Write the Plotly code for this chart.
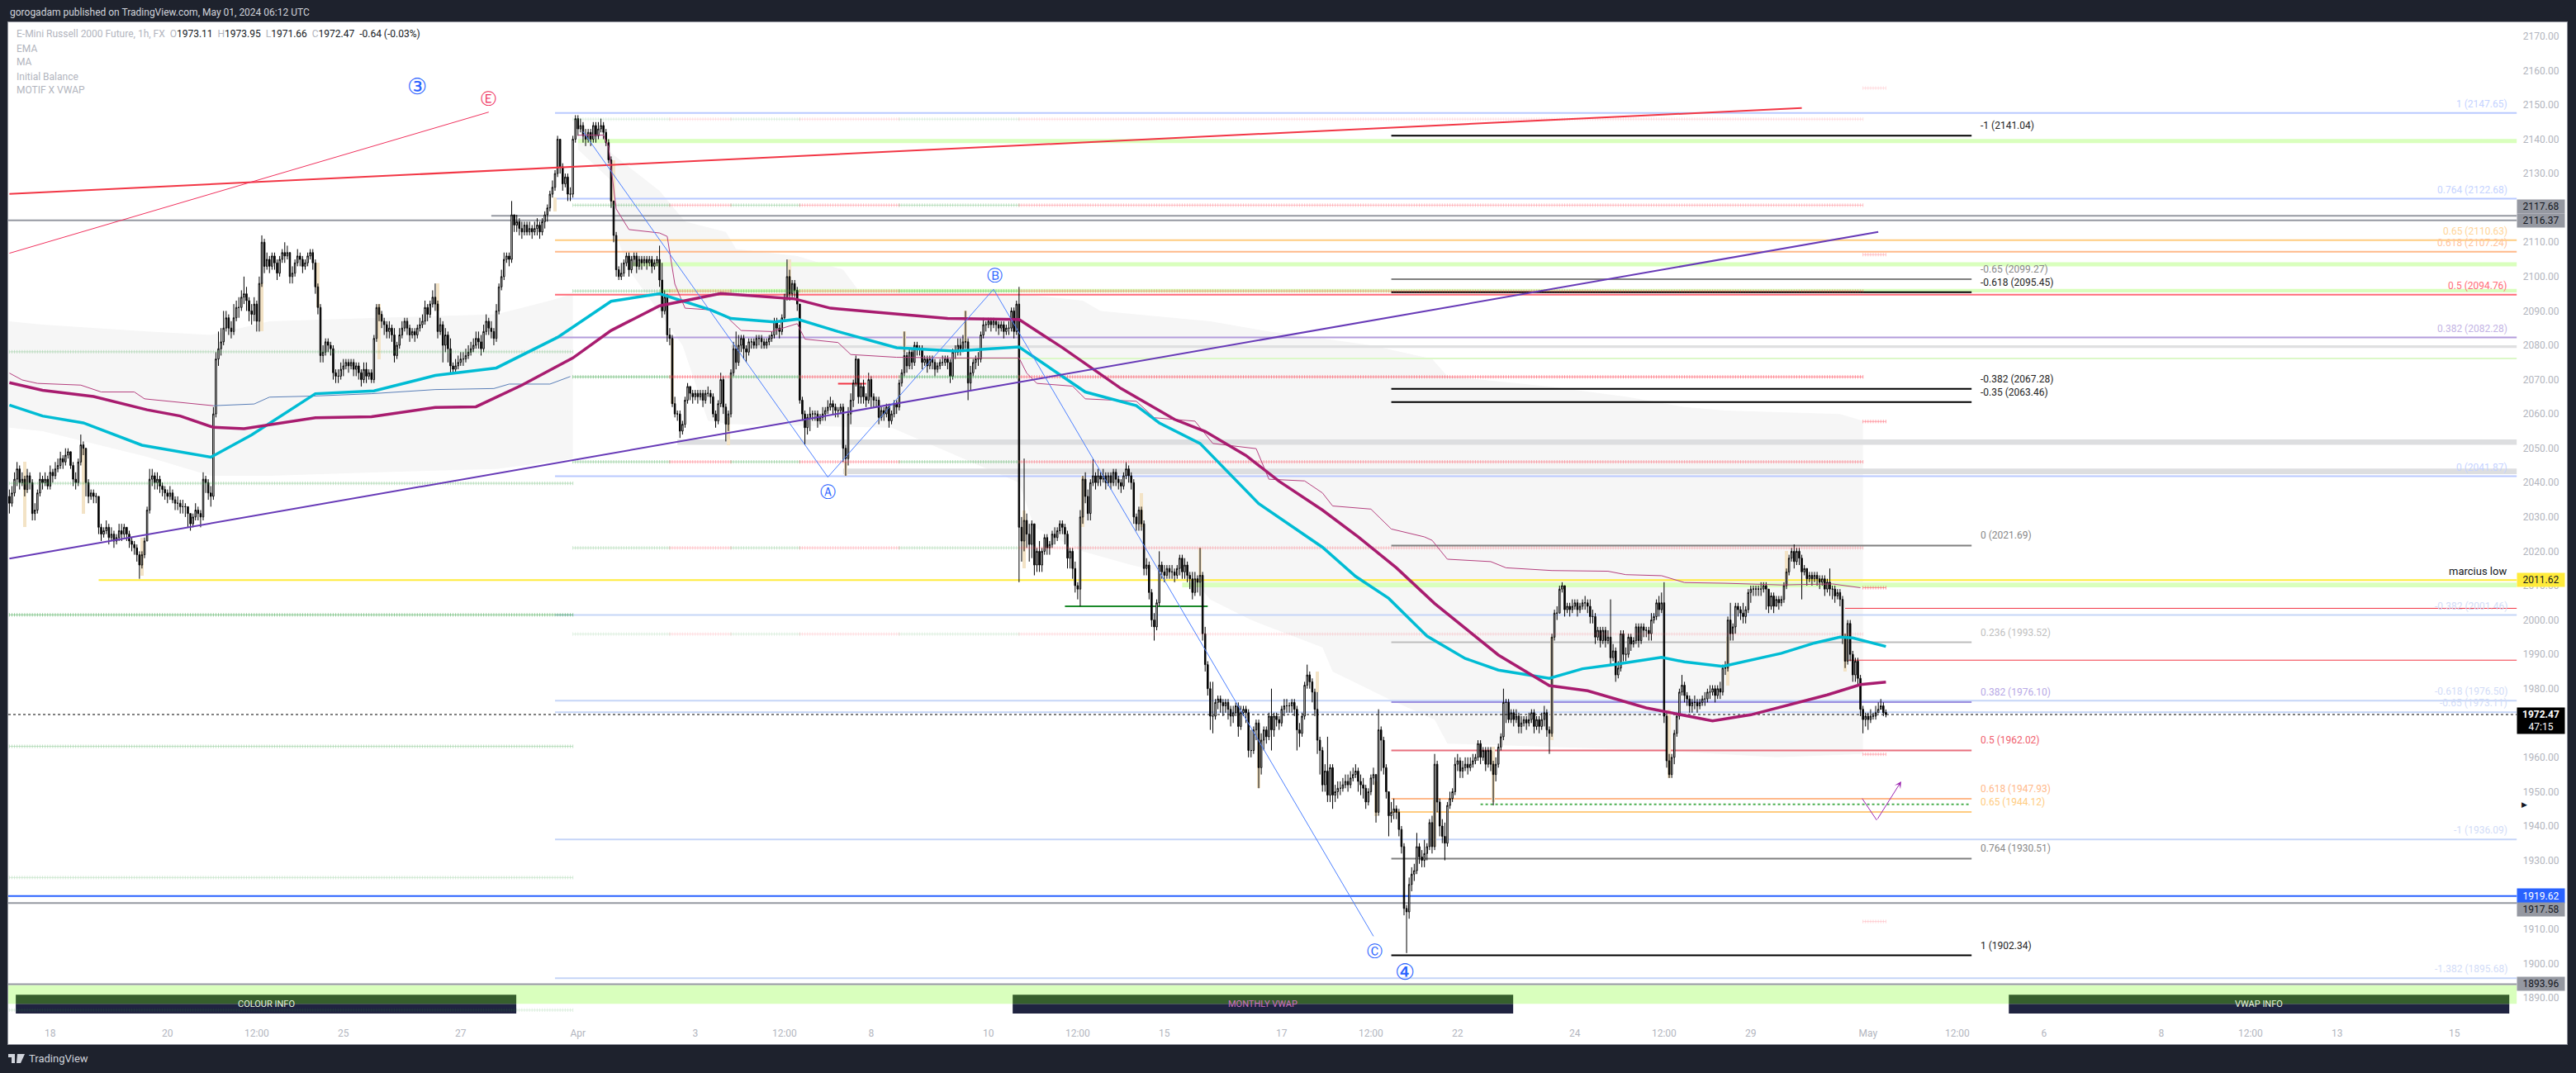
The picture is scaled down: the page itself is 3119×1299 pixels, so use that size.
import plotly.graph_objects as go

FONT = "Roboto"
closes = [
2034,2037,2041,2044,2040,2041,2038,2042,2040,2031,
2032,2037,2041,2040,2041,2039,2043,2042,2044,2045,
2047,2046,2048,2049,2045,2041,2040,2046,2051,2050,
2040,2036,2037,2036,2036,2027,2025,2026,2027,2024,
2025,2023,2024,2026,2025,2027,2025,2023,2022,2021,
2019,2016,2019,2023,2032,2041,2042,2040,2041,2039,
2038,2037,2036,2037,2035,2034,2034,2033,2033,2033,
2031,2028,2030,2032,2031,2030,2041,2040,2037,2036,
2060,2076,2079,2081,2085,2088,2085,2084,2088,2091,
2091,2094,2095,2093,2090,2089,2092,2087,2098,2110,
2103,2105,2103,2106,2104,2101,2105,2107,2106,2107,
2100,2101,2104,2106,2105,2103,2104,2106,2107,2104,
2097,2091,2077,2078,2081,2080,2079,2072,2071,2071,
2073,2074,2075,2074,2075,2073,2074,2072,2070,2073,
2071,2072,2070,2082,2091,2089,2087,2086,2084,2085,
2083,2077,2080,2083,2085,2087,2085,2083,2084,2083,
2085,2086,2087,2091,2089,2092,2094,2092,2084,2086,
2080,2083,2079,2074,2073,2074,2075,2076,2076,2077,
2078,2079,2080,2082,2081,2079,2084,2087,2085,2084,
2082,2090,2097,2100,2105,2106,2105,2118,2115,2116,
2114,2113,2115,2113,2114,2113,2114,2115,2113,2116,
2118,2120,2124,2126,2130,2140,2132,2127,2129,2124,
2124,2140,2146,2143,2144,2141,2140,2142,2140,2144,
2141,2143,2144,2142,2139,2134,2122,2112,2102,2100,
2101,2104,2106,2102,2105,2106,2103,2105,2104,2105,
2104,2105,2103,2104,2105,2099,2090,2094,2083,2082,
2063,2060,2060,2055,2057,2064,2068,2066,2065,2066,
2065,2066,2064,2066,2066,2065,2060,2058,2063,2070,
2062,2057,2060,2072,2079,2075,2080,2082,2079,2078,
2081,2081,2080,2082,2082,2081,2080,2081,2082,2083,
2087,2085,2084,2088,2094,2100,2095,2098,2096,2092,
2064,2060,2056,2059,2060,2060,2060,2058,2059,2060,
2061,2062,2063,2062,2061,2061,2062,2050,2047,2060,
2064,2069,2076,2065,2068,2065,2064,2070,2065,2064,
2064,2059,2061,2060,2062,2058,2060,2063,2062,2069,
2072,2077,2074,2078,2075,2080,2079,2079,2075,2076,
2074,2076,2075,2073,2074,2075,2075,2076,2075,2071,
2078,2078,2080,2079,2081,2081,2069,2072,2075,2076,
2076,2083,2086,2086,2087,2086,2087,2086,2085,2086,
2084,2085,2085,2090,2084,2092,2027,2023,2029,2025,
2022,2028,2016,2020,2016,2020,2024,2021,2022,2025,
2024,2026,2028,2027,2025,2018,2020,2015,2010,2009,
2030,2041,2036,2031,2040,2042,2040,2042,2041,2042,
2040,2042,2040,2043,2041,2040,2039,2042,2044,2042,
2040,2030,2028,2032,2028,2015,2016,2008,2000,1998,
2005,2016,2014,2013,2015,2014,2014,2013,2015,2018,
2014,2016,2013,2012,2008,2012,2011,2013,1996,1987,
1980,1972,1972,1976,1977,1976,1975,1976,1974,1972,
1973,1975,1969,1973,1974,1973,1962,1962,1968,1970,
1957,1965,1968,1966,1972,1968,1972,1971,1970,1974,
1975,1975,1975,1976,1974,1968,1967,1972,1981,1984,
1982,1979,1974,1965,1962,1952,1956,1949,1957,1949,
1950,1951,1951,1952,1953,1952,1954,1955,1956,1953,
1952,1951,1947,1950,1954,1955,1944,1968,1965,1957,
1950,1943,1944,1945,1944,1939,1934,1916,1915,1923,
1926,1927,1934,1931,1930,1932,1934,1941,1934,1958,
1947,1940,1937,1935,1946,1948,1950,1958,1959,1956,
1957,1958,1957,1958,1959,1960,1964,1960,1962,1958,
1962,1958,1955,1958,1963,1966,1976,1976,1971,1973,
1971,1972,1969,1970,1971,1970,1971,1973,1969,1971,
1969,1971,1973,1968,1967,1995,2002,2002,2009,2010,
2003,2004,2003,2004,2005,2003,2004,2005,2005,2004,
2001,2001,1995,1997,1994,1997,1994,1995,1989,1991,
1984,1986,1996,1990,1990,1995,1993,1994,1998,1994,
1998,1997,1997,1996,2000,2001,2005,2003,2005,1972,
1959,1955,1960,1967,1972,1979,1981,1978,1977,1975,
1976,1976,1975,1976,1977,1977,1979,1979,1980,1978,
1980,1979,1986,1986,2000,1996,1998,2004,2003,2002,
2001,2003,2008,2009,2009,2009,2009,2009,2010,2009,
2004,2007,2004,2006,2005,2006,2010,2014,2018,2020,
2017,2020,2018,2014,2015,2012,2013,2012,2013,2012,
2011,2012,2009,2011,2009,2009,2007,2008,2006,1995,
1988,1999,1990,1984,1988,1983,1974,1971,1972,1971,
1972,1972,1973,1974,1975,1973,1972.47]

opens = [
2036,2034,2037,2041,2044,2040,2041,2038,2042,2040,
2031,2032,2037,2041,2040,2041,2039,2043,2042,2044,
2045,2047,2046,2048,2049,2045,2041,2040,2046,2051,
2050,2040,2036,2037,2036,2036,2027,2025,2026,2027,
2024,2025,2023,2024,2026,2025,2027,2025,2023,2022,
2021,2019,2016,2019,2023,2032,2041,2042,2040,2041,
2039,2038,2037,2036,2037,2035,2034,2034,2033,2033,
2033,2031,2028,2030,2032,2031,2030,2041,2040,2037,
2036,2060,2076,2079,2081,2085,2088,2085,2084,2088,
2091,2091,2094,2095,2093,2090,2089,2092,2087,2098,
2110,2103,2105,2103,2106,2104,2101,2105,2107,2106,
2107,2100,2101,2104,2106,2105,2103,2104,2106,2107,
2104,2097,2091,2077,2078,2081,2080,2079,2072,2071,
2071,2073,2074,2075,2074,2075,2073,2074,2072,2070,
2073,2071,2072,2070,2082,2091,2089,2087,2086,2084,
2085,2083,2077,2080,2083,2085,2087,2085,2083,2084,
2083,2085,2086,2087,2091,2089,2092,2094,2092,2084,
2086,2080,2083,2079,2074,2073,2074,2075,2076,2076,
2077,2078,2079,2080,2082,2081,2079,2084,2087,2085,
2084,2082,2090,2097,2100,2105,2106,2105,2118,2115,
2116,2114,2113,2115,2113,2114,2113,2114,2115,2113,
2116,2118,2120,2124,2126,2130,2140,2132,2127,2129,
2124,2124,2140,2146,2143,2144,2141,2140,2142,2140,
2144,2141,2143,2144,2142,2139,2134,2122,2112,2102,
2100,2101,2104,2106,2102,2105,2106,2103,2105,2104,
2105,2104,2105,2103,2104,2105,2099,2090,2094,2083,
2082,2063,2060,2060,2055,2057,2064,2068,2066,2065,
2066,2065,2066,2064,2066,2066,2065,2060,2058,2063,
2070,2062,2057,2060,2072,2079,2075,2080,2082,2079,
2078,2081,2081,2080,2082,2082,2081,2080,2081,2082,
2083,2087,2085,2084,2088,2094,2100,2095,2098,2096,
2092,2064,2060,2056,2059,2060,2060,2060,2058,2059,
2060,2061,2062,2063,2062,2061,2061,2062,2050,2047,
2060,2064,2069,2076,2065,2068,2065,2064,2070,2065,
2064,2064,2059,2061,2060,2062,2058,2060,2063,2062,
2069,2072,2077,2074,2078,2075,2080,2079,2079,2075,
2076,2074,2076,2075,2073,2074,2075,2075,2076,2075,
2071,2078,2078,2080,2079,2081,2081,2069,2072,2075,
2076,2076,2083,2086,2086,2087,2086,2087,2086,2085,
2086,2084,2085,2085,2090,2084,2092,2027,2023,2029,
2025,2022,2028,2016,2020,2016,2020,2024,2021,2022,
2025,2024,2026,2028,2027,2025,2018,2020,2015,2010,
2009,2030,2041,2036,2031,2040,2042,2040,2042,2041,
2042,2040,2042,2040,2043,2041,2040,2039,2042,2044,
2042,2040,2030,2028,2032,2028,2015,2016,2008,2000,
1998,2005,2016,2014,2013,2015,2014,2014,2013,2015,
2018,2014,2016,2013,2012,2008,2012,2011,2013,1996,
1987,1980,1972,1972,1976,1977,1976,1975,1976,1974,
1972,1973,1975,1969,1973,1974,1973,1962,1962,1968,
1970,1957,1965,1968,1966,1972,1968,1972,1971,1970,
1974,1975,1975,1975,1976,1974,1968,1967,1972,1981,
1984,1982,1979,1974,1965,1962,1952,1956,1949,1957,
1949,1950,1951,1951,1952,1953,1952,1954,1955,1956,
1953,1952,1951,1947,1950,1954,1955,1944,1968,1965,
1957,1950,1943,1944,1945,1944,1939,1934,1916,1915,
1923,1926,1927,1934,1931,1930,1932,1934,1941,1934,
1958,1947,1940,1937,1935,1946,1948,1950,1958,1959,
1956,1957,1958,1957,1958,1959,1960,1964,1960,1962,
1958,1962,1958,1955,1958,1963,1966,1976,1976,1971,
1973,1971,1972,1969,1970,1971,1970,1971,1973,1969,
1971,1969,1971,1973,1968,1967,1995,2002,2002,2009,
2010,2003,2004,2003,2004,2005,2003,2004,2005,2005,
2004,2001,2001,1995,1997,1994,1997,1994,1995,1989,
1991,1984,1986,1996,1990,1990,1995,1993,1994,1998,
1994,1998,1997,1997,1996,2000,2001,2005,2003,2005,
1972,1959,1955,1960,1967,1972,1979,1981,1978,1977,
1975,1976,1976,1975,1976,1977,1977,1979,1979,1980,
1978,1980,1979,1986,1986,2000,1996,1998,2004,2003,
2002,2001,2003,2008,2009,2009,2009,2009,2009,2010,
2009,2004,2007,2004,2006,2005,2006,2010,2014,2018,
2020,2017,2020,2018,2014,2015,2012,2013,2012,2013,
2012,2011,2012,2009,2011,2009,2009,2007,2008,2006,
1995,1988,1999,1990,1984,1988,1983,1974,1971,1972,
1971,1972,1972,1973,1974,1975,1973.11]

highs = [
2038,2039,2043,2046,2045,2043,2042,2044,2043,2041,
2034,2038,2043,2042,2043,2042,2045,2044,2046,2047,
2049,2048,2050,2050,2049,2046,2043,2047,2054,2052,
2050,2041,2038,2038,2037,2036,2028,2027,2029,2028,
2027,2026,2025,2028,2028,2028,2027,2026,2024,2023,
2022,2020,2020,2024,2033,2044,2044,2043,2043,2042,
2040,2039,2038,2039,2038,2036,2036,2035,2035,2034,
2033,2031,2031,2034,2033,2032,2043,2042,2041,2039,
2062,2078,2084,2085,2090,2090,2089,2087,2092,2093,
2094,2096,2100,2097,2094,2092,2094,2093,2100,2112,
2111,2107,2106,2107,2107,2105,2106,2108,2110,2109,
2107,2103,2105,2108,2107,2106,2105,2107,2108,2108,
2105,2098,2092,2080,2082,2082,2081,2080,2073,2073,
2075,2076,2076,2076,2076,2076,2075,2075,2073,2075,
2075,2073,2073,2083,2092,2092,2090,2088,2087,2087,
2086,2085,2081,2085,2087,2088,2088,2086,2085,2085,
2086,2088,2089,2093,2092,2093,2096,2098,2093,2088,
2087,2085,2084,2082,2075,2076,2077,2078,2078,2079,
2080,2081,2082,2084,2084,2083,2086,2089,2088,2087,
2085,2092,2098,2102,2107,2107,2107,2122,2118,2118,
2117,2116,2116,2116,2116,2115,2116,2117,2116,2117,
2119,2121,2125,2128,2131,2141,2140,2133,2130,2130,
2126,2141,2147,2147,2146,2145,2143,2143,2143,2145,
2145,2145,2146,2145,2143,2140,2135,2122,2113,2103,
2104,2105,2107,2107,2106,2107,2107,2106,2106,2106,
2106,2106,2106,2105,2106,2109,2104,2096,2095,2085,
2083,2065,2061,2061,2058,2065,2069,2068,2067,2067,
2067,2067,2067,2067,2068,2067,2066,2061,2064,2072,
2071,2063,2061,2073,2081,2084,2083,2083,2083,2080,
2082,2082,2082,2083,2083,2083,2082,2082,2083,2084,
2088,2088,2086,2089,2095,2105,2102,2099,2099,2097,
2092,2065,2061,2060,2062,2061,2061,2061,2060,2062,
2062,2064,2065,2064,2063,2062,2063,2063,2051,2062,
2066,2070,2077,2076,2069,2070,2066,2072,2071,2066,
2065,2065,2062,2062,2063,2063,2061,2064,2064,2070,
2073,2084,2078,2079,2079,2081,2081,2080,2080,2077,
2077,2077,2077,2076,2075,2076,2077,2077,2077,2076,
2079,2080,2082,2082,2083,2090,2082,2074,2076,2077,
2078,2084,2088,2087,2088,2088,2088,2087,2087,2087,
2087,2086,2087,2091,2091,2093,2097,2030,2047,2031,
2028,2029,2028,2021,2023,2021,2025,2025,2023,2026,
2027,2027,2029,2029,2028,2026,2021,2021,2017,2011,
2032,2042,2043,2038,2041,2047,2043,2044,2043,2044,
2043,2043,2043,2044,2044,2042,2041,2043,2046,2045,
2043,2041,2031,2033,2033,2029,2018,2017,2009,2002,
2006,2020,2017,2016,2016,2016,2016,2015,2016,2019,
2019,2018,2017,2014,2014,2014,2013,2021,2014,1998,
1988,1982,1982,1977,1978,1978,1977,1977,1977,1975,
1975,1976,1976,1975,1975,1975,1974,1968,1969,1971,
1971,1967,1969,1969,1973,1980,1973,1973,1972,1975,
1977,1977,1976,1977,1977,1975,1970,1973,1982,1987,
1985,1983,1980,1979,1966,1963,1958,1966,1958,1958,
1952,1953,1953,1954,1955,1955,1956,1957,1958,1957,
1955,1954,1952,1951,1955,1957,1955,1974,1969,1966,
1958,1950,1947,1948,1946,1945,1940,1935,1917,1925,
1928,1929,1938,1935,1933,1936,1935,1942,1943,1961,
1959,1948,1942,1941,1947,1950,1951,1960,1961,1960,
1959,1960,1960,1960,1961,1961,1965,1965,1963,1963,
1963,1963,1959,1960,1964,1967,1980,1977,1977,1974,
1974,1974,1973,1972,1972,1972,1973,1974,1974,1972,
1972,1973,1975,1974,1969,1996,2003,2004,2010,2011,
2010,2005,2005,2006,2006,2006,2005,2006,2007,2006,
2006,2003,2002,1998,1998,1998,1998,1997,2006,1993,
1992,1988,1997,1997,1992,1996,1996,1995,1999,1999,
1999,1999,1998,1998,2002,2002,2006,2007,2008,2011,
1973,1961,1961,1968,1973,1980,1984,1982,1979,1978,
1977,1978,1977,1977,1978,1979,1980,1981,1981,1981,
1981,1982,1987,1988,2001,2005,1999,2005,2005,2004,
2005,2004,2009,2010,2010,2010,2010,2011,2011,2011,
2009,2008,2008,2007,2007,2007,2011,2015,2019,2021,
2022,2021,2021,2019,2016,2015,2014,2014,2014,2014,
2013,2013,2013,2012,2015,2010,2010,2009,2009,2007,
1996,2000,2000,1991,1989,1989,1984,1975,1973,1973,
1974,1973,1975,1976,1977,1976,1973.95]

lows = [
2031,2033,2036,2039,2038,2039,2036,2037,2038,2029,
2029,2031,2036,2038,2039,2038,2038,2040,2041,2043,
2044,2044,2045,2047,2044,2039,2038,2039,2045,2048,
2036,2034,2035,2034,2034,2025,2023,2024,2025,2022,
2023,2021,2022,2023,2023,2024,2023,2021,2020,2019,
2017,2012,2015,2018,2023,2031,2039,2038,2038,2037,
2036,2035,2034,2035,2034,2032,2032,2031,2031,2030,
2027,2026,2027,2029,2029,2027,2029,2037,2035,2033,
2035,2059,2074,2077,2080,2084,2083,2082,2083,2087,
2088,2090,2092,2090,2087,2086,2087,2084,2084,2097,
2101,2102,2101,2102,2102,2099,2100,2104,2104,2105,
2098,2098,2100,2103,2103,2101,2102,2103,2105,2102,
2095,2089,2075,2075,2077,2078,2077,2070,2069,2069,
2070,2071,2073,2072,2073,2071,2071,2070,2068,2069,
2069,2070,2069,2069,2081,2087,2085,2083,2082,2082,
2081,2075,2076,2079,2082,2084,2083,2081,2082,2081,
2082,2084,2085,2086,2087,2088,2091,2090,2082,2083,
2075,2078,2075,2072,2072,2072,2073,2074,2074,2075,
2076,2077,2078,2079,2079,2077,2078,2083,2083,2082,
2080,2081,2089,2096,2099,2104,2103,2104,2113,2113,
2112,2111,2112,2112,2112,2111,2112,2112,2111,2112,
2114,2116,2119,2123,2125,2129,2130,2125,2126,2122,
2122,2123,2139,2141,2142,2139,2138,2139,2138,2139,
2139,2140,2142,2140,2138,2133,2120,2110,2100,2099,
2099,2100,2103,2100,2101,2103,2101,2102,2102,2103,
2102,2103,2101,2102,2103,2097,2088,2089,2081,2080,
2062,2059,2058,2053,2054,2056,2063,2064,2063,2064,
2063,2064,2062,2063,2065,2063,2059,2056,2057,2062,
2060,2052,2055,2059,2071,2073,2074,2078,2076,2075,
2077,2079,2079,2079,2080,2079,2079,2079,2080,2081,
2082,2083,2082,2083,2087,2093,2093,2094,2094,2090,
2063,2058,2051,2054,2055,2058,2058,2056,2057,2058,
2058,2060,2061,2060,2059,2059,2060,2046,2042,2045,
2057,2062,2068,2063,2063,2063,2062,2063,2062,2062,
2062,2057,2058,2058,2059,2056,2057,2059,2060,2061,
2068,2071,2072,2073,2073,2074,2077,2077,2073,2074,
2072,2073,2073,2071,2072,2073,2074,2074,2073,2069,
2070,2076,2077,2077,2078,2079,2064,2067,2071,2073,
2074,2075,2082,2084,2085,2084,2085,2084,2083,2084,
2082,2083,2083,2084,2082,2083,2011,2017,2020,2021,
2017,2018,2013,2014,2014,2014,2019,2019,2019,2021,
2022,2023,2025,2025,2022,2015,2015,2012,2008,2006,
2004,2028,2034,2029,2029,2039,2038,2039,2039,2040,
2038,2039,2038,2039,2039,2038,2037,2038,2041,2040,
2038,2028,2026,2026,2026,2013,2013,2006,1998,1994,
1997,2004,2012,2011,2012,2012,2012,2011,2012,2013,
2012,2012,2011,2009,2006,2007,2008,2007,1994,1985,
1978,1968,1967,1971,1974,1973,1972,1973,1971,1969,
1970,1972,1966,1968,1972,1970,1960,1960,1961,1965,
1951,1955,1962,1964,1965,1962,1966,1969,1968,1969,
1972,1973,1973,1973,1972,1962,1963,1966,1971,1980,
1980,1976,1972,1961,1955,1950,1950,1947,1947,1945,
1947,1948,1949,1950,1951,1950,1951,1953,1954,1950,
1949,1948,1945,1946,1949,1952,1941,1943,1956,1955,
1948,1937,1941,1942,1942,1937,1932,1914,1903,1913,
1921,1924,1926,1929,1928,1928,1930,1933,1932,1933,
1944,1937,1935,1930,1934,1945,1947,1949,1956,1954,
1954,1956,1955,1956,1957,1958,1959,1958,1959,1956,
1957,1956,1946,1953,1957,1962,1965,1970,1970,1970,
1969,1970,1967,1967,1969,1968,1969,1970,1967,1968,
1967,1968,1969,1966,1961,1966,1994,2000,2002,2008,
2001,2002,2001,2002,2003,2001,2002,2003,2003,2002,
1999,1999,1993,1994,1992,1993,1992,1993,1987,1988,
1982,1983,1985,1988,1988,1989,1991,1992,1993,1992,
1993,1995,1995,1994,1994,1999,2000,2001,2002,1970,
1957,1954,1954,1958,1966,1971,1978,1976,1975,1973,
1973,1974,1973,1974,1975,1975,1976,1977,1978,1976,
1977,1977,1978,1984,1985,1994,1994,1996,2001,2000,
1999,1999,2002,2005,2007,2007,2007,2007,2008,2003,
2002,2003,2002,2004,2003,2004,2005,2009,2013,2017,
2015,2016,2016,2006,2013,2010,2011,2010,2011,2010,
2009,2010,2007,2008,2007,2006,2005,2006,2004,1993,
1986,1987,1988,1982,1982,1981,1972,1967,1969,1968,
1970,1971,1971,1973,1974,1972,1971.66]

bars = list(range(len(closes)))

tan_x = [6,29,52,99,121,145,168,214,237,260,282,306,328,351,375,398,421,444,467,490,513,536,559,582,605,651,674,697,720]
tan_top = [2046,2050,2024,2098,2104,2092,2098,2123,2134,2082,2059,2105,2046,2084,2090,2032,2042,2037,2021,1967,1985,1953,1948,1963,1995,1974,1995,2020,1996]
tan_bot = [2027,2031,2013,2084,2091,2076,2090,2119,2121,2063,2051,2095,2042,2078,2081,2015,2027,2027,2013,1951,1979,1943,1934,1947,1965,1954,1981,2010,1985]

ema_x = [0,13,29,52,79,95,120,143,167,191,215,236,255,264,275,283,300,309,325,348,371,396,413,422,442,451,467,490,515,528,541,556,571,584,604,617,630,648,657,672,695,708,718,723,736]
ema_y = [2062.6,2059.4,2057.4,2050.9,2047.4,2053.9,2065.9,2066.7,2071.2,2073.4,2082.3,2092.8,2095,2092.8,2090.3,2087.8,2086.8,2087.6,2084,2079.3,2078.3,2079.5,2070.9,2066.4,2062.4,2057.4,2051.4,2033.9,2021.2,2012.7,2006.3,1995.3,1988.8,1985.4,1983,1985.8,1987.1,1989.1,1987.8,1986.5,1990.3,1993.3,1995,1994.8,1992.3]
ma_x = [0,13,33,54,67,80,92,120,142,167,183,201,221,236,255,279,308,322,340,368,396,413,436,457,469,485,498,515,529,544,559,584,604,619,642,668,683,713,726,736]
ma_y = [2069.1,2066.9,2065.1,2061.2,2059.4,2056.1,2055.7,2058.9,2059.2,2061.9,2062.1,2068.4,2076.3,2084.3,2091.5,2095.1,2093.5,2090.8,2089.6,2087.8,2087.5,2079.3,2067.4,2058.4,2054.9,2047.9,2040.4,2032,2024.2,2015.2,2004.8,1989.8,1980.9,1979.4,1974.4,1970.6,1972.4,1978.2,1981.2,1981.9]

vw1_x = [0,5,11,28,36,49,53,74,80]
vw1_y = [2071.9,2069.9,2068.9,2068.4,2066.4,2066.4,2064.4,2062.9,2062.4]
vw2_x = [80,96,102,119,142,167,190,196,212,220]
vw2_y = [2062.4,2062.9,2064.9,2065.2,2065.9,2067.1,2067.4,2068.7,2068.7,2070.9]
vw3_x = [223,233,235,238,243,255,258,261,265,275,282,287,299,309,312,325,330,348,371,396,399,403,417,422,442,449,465,472,489,494,508,515,519,534,542,555,558,564,581,587,605,627,634,648,657,673,695,715,726]
vw3_y = [2141.2,2141.2,2137.7,2119.7,2113.7,2112.7,2111.7,2097.8,2090.8,2090.3,2087.8,2084.3,2084,2086.3,2081.8,2080.8,2077.3,2076.5,2076.3,2076.3,2071.9,2068.9,2068.1,2064.4,2063.7,2058.9,2057.9,2051.4,2049.9,2041,2040.5,2037,2033.2,2032.3,2026.5,2024.2,2023.2,2017.7,2017,2015.2,2014.4,2014.2,2013.2,2012.9,2010.9,2010.7,2010.2,2010.5,2009.4]

cloud1_x = [0,13,54,79,102,145,191,212,221]
cloud1_up = [2087,2086,2084,2083,2087,2088,2089,2093,2095]
cloud1_dn = [2056,2055,2047.5,2042,2042,2043,2044,2046,2047]
cloud2_up_x = [223,233,236,255,265,281,285,309,327,333,396,421,428,471,494,515,534,558,564,604,634,657,673,718,727]
cloud2_up = [2141,2143,2136,2125,2116,2113,2108,2106,2102,2096,2095,2093,2090,2087,2084,2082,2080,2076,2071,2068,2065,2062,2061,2060,2058]
cloud2_dn_x = [727,693,648,564,559,541,519,515,494,487,471,464,440,421,402,396,346,283,274,264,243,238,236,223]
cloud2_dn = [1961,1960,1962,1964,1971,1977,1985,1992,1998,2000,2006,2012,2016,2020,2027,2040,2056,2057,2058,2080,2102,2112,2128,2137]

fib_up_levels = [2147.65,2122.68,2110.63,2107.24,2094.76,2082.28,2041.87,2001.46,1976.50,1973.11,1936.09,1895.68]
fib_up_names = ["1","0.764","0.65","0.618","0.5","0.382","0","-0.382","-0.618","-0.65","-1","-1.382"]
fib_up_line = ["#b9c9ff","#b9c9ff","#ffcc80","#ffb98a","#ff6b78","#b39ddb","#b9c9ff","#c5d5f7","#c5d5f7","#c5d5f7","#c5d5f7","#c5d5f7"]
fib_up_text = ["#c5d3ff","#c5d3ff","#ffd599","#ffc49c","#ff6b78","#c3b4e4","#c5d3ff","#d2dcf7","#d2dcf7","#d2dcf7","#d2dcf7","#d2dcf7"]
fib_dn_levels = [2141.04,2099.27,2095.45,2067.28,2063.46,2021.69,1993.52,1976.10,1962.02,1947.93,1944.12,1930.51,1902.34]
fib_dn_names = ["-1","-0.65","-0.618","-0.382","-0.35","0","0.236","0.382","0.5","0.618","0.65","0.764","1"]
fib_dn_line = ["#000000","#808080","#000000","#000000","#000000","#808080","#bdbdbd","#9b8fe0","#e8707e","#ffb98a","#ffcc80","#808080","#000000"]
fib_dn_text = ["#222222","#888888","#222222","#222222","#222222","#888888","#c0c0c0","#b7a9e6","#f0606e","#ffb98a","#ffcc80","#888888","#222222"]

pivot_left = [2078.1,2039.8,2001.5,1963.2,1925.0,1886.4]
pivot_left_op = [.5,.6,1,.6,.4,.3]
pivot_mid = [2145.85,2120.8,2095.8,2070.8,2046.05,2021.0,1995.9]
pivot_mid_op = [.28,.6,.7,1,.75,.5,.28]
pivot_seg_from = [221,259,283,310,349,396]
pivot_seg_to = [259,283,310,349,396,727]
pivot_seg_col = ["#2e9e3a","#ff2a3c","#2e9e3a","#ff2a3c","#2e9e3a","#ff2a3c"]
pivot_next = [2154.9,2106.4,2057.8,2009.4,1960.9,1912.2]
pivot_next_op = [.3,.55,.85,1,.7,.4]

x_ticks = [16,62,97,131,177,223,269,304,338,384,419,453,499,534,568,614,649,683,729,764,798,844,879,913,959]
x_text = ["18","20","12:00","25","27","Apr","3","12:00","8","10","12:00","15","17","12:00","22","24","12:00","29","May","12:00","6","8","12:00","13","15"]
y_ticks = list(range(1890,2171,10))

RIGHT = 983.4
shapes, ann = [], []
def hline(y,x0,x1,color,w=2,dash="solid"):
    shapes.append(dict(type="line",xref="x",yref="y",x0=x0,x1=x1,y0=y,y1=y,layer="below",line=dict(color=color,width=w,dash=dash)))
def band(y0,y1,x0,x1,color):
    shapes.append(dict(type="rect",xref="x",yref="y",x0=x0,x1=x1,y0=y0,y1=y1,layer="below",fillcolor=color,line=dict(width=0)))
def path(xs,ys):
    return "M "+" L ".join(f"{a} {b}" for a,b in zip(xs,ys))+" Z"
def note(x,y,t,color,size=12,xa="left",ya="middle",yshift=0,**k):
    ann.append(dict(x=x,y=y,xref="x",yref="y",text=t,showarrow=False,xanchor=xa,yanchor=ya,yshift=yshift,font=dict(family=FONT,size=size,color=color),**k))
def paper(px,py,t,color,size=12,xa="left",**k):
    ann.append(dict(x=(px-10)/3098,y=(1264-py)/1237,xref="paper",yref="paper",text=t,showarrow=False,xanchor=xa,yanchor="middle",font=dict(family=FONT,size=size,color=color),**k))

# VWAP clouds
shapes.append(dict(type="path",xref="x",yref="y",layer="below",path=path(cloud1_x+cloud1_x[::-1],cloud1_up+cloud1_dn[::-1]),fillcolor="#f6f6f6",line=dict(width=0)))
shapes.append(dict(type="path",xref="x",yref="y",layer="below",path=path(cloud2_up_x+cloud2_dn_x,cloud2_up+cloud2_dn),fillcolor="#f6f6f6",line=dict(width=0)))

# zones
band(2138.9,2140.1,223,RIGHT,"#d9ffbd")
band(2103,2104.2,243,RIGHT,"#d9ffbd")
band(2095.4,2096.4,255,RIGHT,"#d9ffbd")
band(2075.9,2076.4,370,RIGHT,"#dcf8c8")
band(2009.5,2010.9,460,RIGHT,"#d9ffbd")
band(1888.2,1893.7,-0.45,RIGHT,"#d9ffbd")
band(2079.2,2080,283,RIGHT,"#dfe0e1")
band(2051,2052.6,262,RIGHT,"#dddee0")
band(2042.5,2044.1,327,RIGHT,"#dddee0")

# levels
hline(2116.37,-0.45,RIGHT,"#9598a1")
hline(2117.68,189,RIGHT,"#9598a1")
hline(1917.58,-0.45,RIGHT,"#9598a1")
hline(1893.96,-0.45,RIGHT,"#9598a1")
hline(1919.62,-0.45,RIGHT,"#2962ff")
hline(2011.62,35,RIGHT,"#ffeb3b")
hline(2003.4,720,RIGHT,"#f23645",1)
hline(1988.3,720,RIGHT,"#f23645",1)
hline(2004,414,470,"#1b8a2a")
hline(2068.8,325,336,"#f23645")
hline(1946.3,577,769,"#4caf50",2,"dot")
hline(1972.47,-0.45,RIGHT,"#000000",1,"dot")
for lv,nm,lc,tc in zip(fib_up_levels,fib_up_names,fib_up_line,fib_up_text):
    hline(lv,214,RIGHT,lc)
    note(980.5,lv,f"{nm} ({lv:.2f})",tc,xa="right",ya="bottom",yshift=2)
for lv,nm,lc,tc in zip(fib_dn_levels,fib_dn_names,fib_dn_line,fib_dn_text):
    hline(lv,542,769.6,lc)
    note(772.5,lv,f"{nm} ({lv:.2f})",tc,xa="left",ya="bottom",yshift=3)

fig = go.Figure()
fig.add_trace(go.Bar(x=tan_x,y=[a-b for a,b in zip(tan_top,tan_bot)],base=tan_bot,width=1.1,marker=dict(color="#f3e3c6",line=dict(width=0))))
fig.add_trace(go.Candlestick(x=bars,open=opens,high=highs,low=lows,close=closes,whiskerwidth=0,
    increasing=dict(fillcolor="#ffffff",line=dict(color="#000000",width=1)),
    decreasing=dict(fillcolor="#000000",line=dict(color="#000000",width=1))))

def tick_trace(xs,ys,color,op):
    fig.add_trace(go.Scatter(x=xs,y=ys,mode="lines+markers",opacity=op*.8,hoverinfo="skip",
        line=dict(color=color,width=.6),marker=dict(symbol="line-ns",size=3,line=dict(color=color,width=.6))))
for lv,op in zip(pivot_left,pivot_left_op):
    xs=list(range(0,222)); tick_trace(xs,[lv]*len(xs),"#2e9e3a",op)
for lv,op in zip(pivot_mid,pivot_mid_op):
    for a,b,c in zip(pivot_seg_from,pivot_seg_to,pivot_seg_col):
        xs=list(range(a,b+1)); tick_trace(xs,[lv]*len(xs),c,op)
for lv,op in zip(pivot_next,pivot_next_op):
    xs=list(range(727,737)); tick_trace(xs,[lv]*len(xs),"#ff2a3c",op)

def line(xs,ys,color,w):
    fig.add_trace(go.Scatter(x=xs,y=ys,mode="lines",line=dict(color=color,width=w),hoverinfo="skip"))
line(vw1_x,vw1_y,"#b5407f",1)
line(vw2_x,vw2_y,"#5a7fb8",1)
line(vw3_x,vw3_y,"#b5407f",1)
line(ema_x,ema_y,"#00bcd4",3.5)
line(ma_x,ma_y,"#a81c6f",3.5)
line([0,703],[2124.1,2149.1],"#f23645",2)
line([0,188],[2106.8,2147.9],"#f0325e",1)
line([0,733],[2017.9,2113],"#673ab7",2)
line([225,321,386,535],[2142.2,2041.6,2096.3,1907.9],"#4d80ff",1)
line([726.7,732.4],[1948,1941.7],"#9c27b0",1)
ann.append(dict(x=742,y=1953,ax=732.4,ay=1941.7,xref="x",yref="y",axref="x",ayref="y",text="",showarrow=True,arrowhead=3,arrowsize=1.4,arrowwidth=1,arrowcolor="#9c27b0"))

# wave marks
note(160,2155.3,"③","#2962ff",size=27,xa="center")
note(188,2151.8,"Ⓔ","#f0325e",size=19,xa="center")
note(321,2037.4,"Ⓐ","#2962ff",size=19,xa="center")
note(386.4,2100.4,"Ⓑ","#2962ff",size=19,xa="center")
note(535.4,1903.5,"Ⓒ","#2962ff",size=19,xa="center")
note(547.3,1897.4,"④","#2962ff",size=27,xa="center")

# banners
for x0,x1,txt,col in [(2.5,198.8,"COLOUR INFO","#e6f5dc"),(393.5,589.8,"MONTHLY VWAP","#d070c0"),(784.2,980.5,"VWAP INFO","#e6f5dc")]:
    band(1885.4,1888.2,x0,x1,"#1f2340")
    band(1888.2,1890.9,x0,x1,"#365f2d")
    note((x0+x1)/2,1888.2,txt,col,size=11,xa="center")

note(980,2014.1,"marcius low","#131722",size=13,xa="right")
note(RIGHT+1.2,1946.3,"▶","#131722",size=9)

def badge(y,t,bg,fg,h=16,yshift=0,size=12):
    note(RIGHT,y,t,fg,size=size,yshift=yshift,bgcolor=bg,width=57,height=h,align="center",valign="middle",borderpad=0)
badge(2117.68,"2117.68","#9598a1","#131722",yshift=11)
badge(2116.37,"2116.37","#9598a1","#131722")
badge(2011.62,"2011.62","#ffeb3b","#131722")
badge(1919.62,"1919.62","#2962ff","#ffffff",h=17)
badge(1917.58,"1917.58","#9598a1","#131722",yshift=-8)
badge(1893.96,"1893.96","#9598a1","#131722")
badge(1970.7,"<b>1972.47</b><br>47:15","#000000","#ffffff",h=31)

# header, legend, footer
paper(10,15,"gorogadam published on TradingView.com, May 01, 2024 06:12 UTC","#d1d4dc",size=12)
gr="#b2b5be"; bk="#131722"
paper(18,41,f"<span style='color:{gr}'>E-Mini Russell 2000 Future, 1h, FX &nbsp;O</span>1973.11 <span style='color:{gr}'>&nbsp;H</span>1973.95 <span style='color:{gr}'>&nbsp;L</span>1971.66 <span style='color:{gr}'>&nbsp;C</span>1972.47 &nbsp;-0.64 (-0.03%)",bk,size=12)
for py,t in zip([58.5,75.5,93,109.5],["EMA","MA","Initial Balance","MOTIF X VWAP"]):
    paper(18,py,t,gr,size=12)
paper(33,1281,"TradingView","#d1d4dc",size=13)
sx=lambda p:(p-10)/3098
sy=lambda p:(1264-p)/1237
shapes.append(dict(type="path",xref="paper",yref="paper",layer="above",fillcolor="#d1d4dc",line=dict(width=0),
    path=f"M {sx(10)} {sy(1276)} L {sx(18)} {sy(1276)} L {sx(18)} {sy(1287)} L {sx(14)} {sy(1287)} L {sx(14)} {sy(1280)} L {sx(10)} {sy(1280)} Z"))
shapes.append(dict(type="path",xref="paper",yref="paper",layer="above",fillcolor="#d1d4dc",line=dict(width=0),
    path=f"M {sx(21)} {sy(1276)} L {sx(30)} {sy(1276)} L {sx(25)} {sy(1287)} L {sx(20)} {sy(1287)} Z"))

fig.update_layout(width=3119,height=1299,paper_bgcolor="#1e222d",plot_bgcolor="#ffffff",showlegend=False,
    margin=dict(l=10,r=11,t=27,b=35,autoexpand=False),shapes=shapes,annotations=ann,
    font=dict(family=FONT,size=12,color="#b2b5be"),hovermode=False,bargap=0,
    xaxis=dict(range=[-0.45,1003.1],rangeslider=dict(visible=False),tickmode="array",tickvals=x_ticks,ticktext=x_text,
        ticklabelposition="inside",ticks="",showgrid=False,zeroline=False,showline=True,mirror=True,linecolor="#9598a1",linewidth=1,
        tickfont=dict(family=FONT,size=12,color="#b2b5be"),ticklabelstandoff=6),
    yaxis=dict(range=[1876.5,2174.05],side="right",tickmode="array",tickvals=y_ticks,ticktext=[f"{v:.2f}" for v in y_ticks],
        ticklabelposition="inside",ticks="",showgrid=False,zeroline=False,showline=True,mirror=True,linecolor="#9598a1",linewidth=1,
        tickfont=dict(family=FONT,size=12,color="#b2b5be"),ticklabelstandoff=9))
fig.write_html("out.html",config=dict(displayModeBar=False),post_script="document.body.style.margin='0';")
